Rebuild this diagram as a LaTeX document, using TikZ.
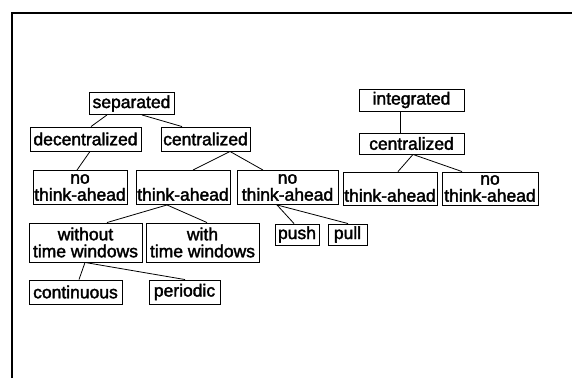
\documentclass[tikz,border=0pt]{standalone}
\usepackage{fontspec}
\setmainfont{Liberation Sans}
\newfontfamily\labelfont{Liberation Sans}[FakeBold=2]
\begin{document}
\begin{tikzpicture}[x=1pt,y=-1pt,
  box/.style={draw,line width=0.9pt,inner sep=0pt,align=center,
    font=\labelfont\fontsize{17.5}{17}\selectfont,minimum width=#1},
  onerow/.style={minimum height=22pt},
  tworow/.style={minimum height=34pt},
  link/.style={line width=0.8pt}]
\useasboundingbox (0,0) rectangle (572,378);
% frame edges
\draw[line width=1.6pt] (12,378) -- (12,13) -- (572,13);

% separated planning
\node[box=85,onerow] (sep) at (131.5,103.5) {separated};
\node[box=111,onerow,minimum height=24pt] (dec) at (85.5,139) {decentralized};
\node[box=89,onerow,minimum height=24pt] (cenL) at (205.5,139) {centralized};
\node[box=94,tworow] (ntaL) at (80,187.5) {no\\think-ahead};
\node[box=94,tworow] (taM) at (183,187.5) {\phantom{no}\\think-ahead};
\node[box=101,tworow] (ntaM) at (287.5,187.5) {no\\think-ahead};
\node[box=113,minimum height=39pt] (wo) at (85.5,242.5) {without\\time windows};
\node[box=113,minimum height=39pt] (wi) at (202.5,242.5) {with\\time windows};
\node[box=44,onerow,minimum height=21pt] (push) at (297,234.5) {push};
\node[box=39,onerow,minimum height=21pt] (pull) at (347.5,234.5) {pull};
\node[box=93,minimum height=24pt] (cont) at (75.5,292) {continuous};
\node[box=71,minimum height=24pt] (per) at (184.5,292) {periodic};

% integrated planning
\node[box=105,onerow] (int) at (411.5,100) {integrated};
\node[box=105,onerow,minimum height=21pt] (cenR) at (411.5,143.5) {centralized};
\node[box=94,tworow,minimum height=33pt] (taR) at (390,188.5) {\phantom{no}\\think-ahead};
\node[box=96,tworow,minimum height=33pt] (ntaR) at (490,188.5) {no\\think-ahead};

% tree edges
\draw[link] ([xshift=-24.5pt]sep.south) -- ([xshift=5.5pt]dec.north);
\draw[link] ([xshift=10.5pt]sep.south) -- ([xshift=-23.5pt]cenL.north);
\draw[link] ([xshift=4.5pt]dec.south) -- ([xshift=-3pt]ntaL.north);
\draw[link] ([xshift=24.5pt]cenL.south) -- ([xshift=10pt]taM.north);
\draw[link] ([xshift=24.5pt]cenL.south) -- ([xshift=-24.5pt]ntaM.north);
\draw[link] ([xshift=-16pt]taM.south) -- ([xshift=21.5pt]wo.north);
\draw[link] ([xshift=-16pt]taM.south) -- ([xshift=4.5pt]wi.north);
\draw[link] ([xshift=-0.5pt]wo.south) -- ([xshift=3.5pt]cont.north);
\draw[link] ([xshift=-0.5pt]wo.south) -- ([xshift=0.5pt]per.north);
\draw[link] ([xshift=-10.5pt]ntaM.south) -- ([xshift=-3pt]push.north);
\draw[link] ([xshift=-10.5pt]ntaM.south) -- ([xshift=0.5pt]pull.north);
\draw[link] ([xshift=-11.5pt]int.south) -- ([xshift=-11.5pt]cenR.north);
\draw[link] ([xshift=1.5pt]cenR.south) -- ([xshift=8pt]taR.north);
\draw[link] ([xshift=1.5pt]cenR.south) -- ([xshift=-28pt]ntaR.north);
\end{tikzpicture}
\end{document}
